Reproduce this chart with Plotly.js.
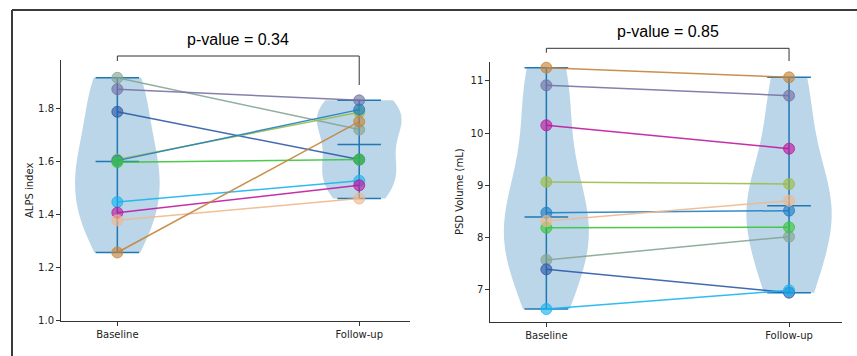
<!DOCTYPE html>
<html>
<head>
<meta charset="utf-8">
<script src="https://cdn.plot.ly/plotly-3.0.1.min.js"></script>
<style>html,body{margin:0;padding:0;background:#fff;}#chart{width:857px;height:356px;}</style>
</head>
<body>
<div id="chart"></div>
<script>
// ---- data ----
const groups = ['Baseline', 'Follow-up'];
const subjectColors = ['#86a592', '#7572a5', '#2c5aa8', '#9cbb4a', '#1f7ec4', '#3cc43c', '#1ab4f0', '#c0189e', '#f0b88c', '#c4843c'];
const alpsBaseline = [1.915, 1.872, 1.787, 1.607, 1.603, 1.597, 1.447, 1.407, 1.378, 1.257];
const alpsFollowup = [1.720, 1.830, 1.607, 1.785, 1.795, 1.607, 1.527, 1.510, 1.460, 1.750];
const psdBaseline = [7.563, 10.917, 7.384, 9.061, 8.471, 8.182, 6.622, 10.149, 8.310, 11.255];
const psdFollowup = [8.010, 10.718, 6.935, 9.022, 8.510, 8.190, 6.980, 9.700, 8.700, 11.070];
const pValues = ['0.34', '0.85'];
const yTitles = ['ALPS index', 'PSD Volume (mL)'];

// ---- helpers ----
const median = a => { const s = [...a].sort((p, q) => p - q); const n = s.length; return n % 2 ? s[(n - 1) / 2] : (s[n / 2 - 1] + s[n / 2]) / 2; };
const std = a => { const m = a.reduce((s, v) => s + v, 0) / a.length; return Math.sqrt(a.reduce((s, v) => s + (v - m) ** 2, 0) / (a.length - 1)); };
const scottBw = a => std(a) * Math.pow(a.length, -0.2);
const hexA = (h, al) => { const n = parseInt(h.slice(1), 16); return `rgba(${n >> 16},${(n >> 8) & 255},${n & 255},${al})`; };

const VBLUE = '#1f77b4';
const VWIDTH = 0.35;
const CAP = 0.09;
const traces = [];

function addPanel(base, follow, xa, ya) {
  const series = [base, follow];
  series.forEach((vals, gi) => {
    traces.push({
      type: 'violin', x0: gi, y: vals, xaxis: xa, yaxis: ya,
      width: VWIDTH, spanmode: 'hard', bandwidth: scottBw(vals),
      fillcolor: 'rgba(31,119,180,0.3)', line: {color: 'rgba(0,0,0,0)', width: 0},
      points: false, box: {visible: false}, meanline: {visible: false},
      hoverinfo: 'skip', showlegend: false, scalemode: 'width'
    });
  });
  series.forEach((vals, gi) => {
    const mn = Math.min(...vals), mx = Math.max(...vals), md = median(vals);
    const L = {color: VBLUE, width: 1.5};
    traces.push({type: 'scatter', mode: 'lines', x: [gi, gi], y: [mn, mx], xaxis: xa, yaxis: ya, line: L, hoverinfo: 'skip', showlegend: false});
    [mn, mx, md].forEach(v => traces.push({type: 'scatter', mode: 'lines', x: [gi - CAP, gi + CAP], y: [v, v], xaxis: xa, yaxis: ya, line: L, hoverinfo: 'skip', showlegend: false}));
  });
  base.forEach((b, i) => {
    const c = subjectColors[i];
    traces.push({
      type: 'scatter', mode: 'lines+markers', x: [0, 1], y: [b, follow[i]], xaxis: xa, yaxis: ya,
      line: {color: hexA(c, 0.9), width: 1.5},
      marker: {size: 11, color: hexA(c, 0.65), line: {color: hexA(c, 0.8), width: 1}},
      hoverinfo: 'skip', showlegend: false, cliponaxis: false
    });
  });
}
addPanel(alpsBaseline, alpsFollowup, 'x', 'y');
addPanel(psdBaseline, psdFollowup, 'x2', 'y2');

const W = 857, H = 356;
const py = p => 1 - p / H;
const axCommon = {
  showline: true, linecolor: '#333', linewidth: 1, ticks: 'outside', ticklen: 4, tickcolor: '#333',
  tickfont: {family: 'DejaVu Sans', size: 10, color: '#222'}, showgrid: false, zeroline: false, fixedrange: true
};
const xCommon = Object.assign({}, axCommon, {tickvals: [0, 1], ticktext: groups});

const layout = {
  width: W, height: H, margin: {l: 0, r: 0, t: 0, b: 0}, paper_bgcolor: '#fff', plot_bgcolor: 'rgba(0,0,0,0)',
  showlegend: false, violingap: 0, violinmode: 'overlay',
  xaxis: Object.assign({}, xCommon, {domain: [61 / W, 410 / W], range: [-0.233, 1.21], anchor: 'y'}),
  yaxis: Object.assign({}, axCommon, {domain: [py(320.7), py(60)], range: [1.0, 1.982], tickvals: [1.0, 1.2, 1.4, 1.6, 1.8], tickformat: '.1f', anchor: 'x',
    title: {text: yTitles[0], font: {family: 'DejaVu Sans', size: 10, color: '#222'}, standoff: 2}}),
  xaxis2: Object.assign({}, xCommon, {domain: [490.3 / W, 841.7 / W], range: [-0.231, 1.217], anchor: 'y2'}),
  yaxis2: Object.assign({}, axCommon, {domain: [py(321.7), py(61.7)], range: [6.378, 11.37], tickvals: [7, 8, 9, 10, 11], anchor: 'x2',
    title: {text: yTitles[1], font: {family: 'DejaVu Sans', size: 10, color: '#222'}, standoff: 5}}),
  shapes: [
    // outer frame
    {type: 'line', xref: 'paper', yref: 'paper', x0: 12 / W, x1: 1, y0: py(10), y1: py(10), line: {color: '#3a3a3a', width: 2}},
    {type: 'line', xref: 'paper', yref: 'paper', x0: 12 / W, x1: 12 / W, y0: py(10), y1: 0, line: {color: '#3a3a3a', width: 2}},
    // brackets left
    {type: 'path', xref: 'x', yref: 'paper', path: `M0,${py(61)} L0,${py(56)} L1,${py(56)} L1,${py(85)}`, line: {color: '#333', width: 1}},
    // brackets right
    {type: 'path', xref: 'x2', yref: 'paper', path: `M0,${py(52.7)} L0,${py(48.3)} L1,${py(48.3)} L1,${py(61)}`, line: {color: '#333', width: 1}}
  ],
  annotations: [
    {xref: 'x', yref: 'paper', x: 0.5, y: py(39), text: 'p-value = ' + pValues[0], showarrow: false, font: {family: 'Liberation Sans, Arial', size: 16, color: '#000'}, xanchor: 'center', yanchor: 'middle'},
    {xref: 'x2', yref: 'paper', x: 0.5, y: py(31), text: 'p-value = ' + pValues[1], showarrow: false, font: {family: 'Liberation Sans, Arial', size: 16, color: '#000'}, xanchor: 'center', yanchor: 'middle'}
  ]
};

Plotly.newPlot('chart', traces, layout, {displayModeBar: false, staticPlot: true});
</script>
</body>
</html>
